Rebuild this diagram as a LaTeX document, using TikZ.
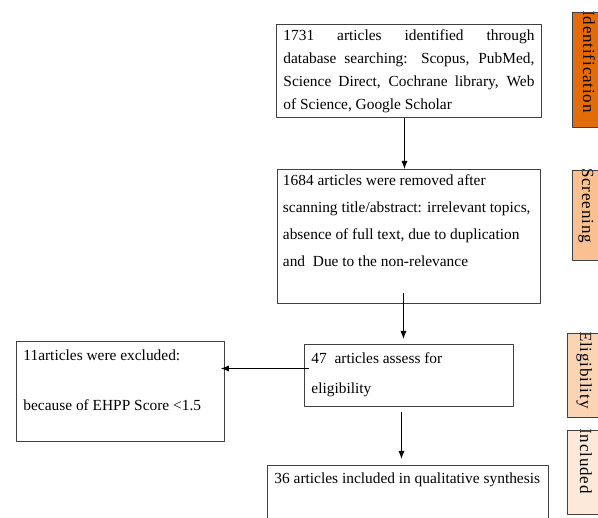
\documentclass[tikz,border=0pt]{standalone}
\usepackage{fontspec}
\setmainfont{Liberation Serif}
\newfontfamily\tabfont[LetterSpace=5]{Liberation Serif}
\usetikzlibrary{arrows.meta}
\definecolor{idorange}{HTML}{E36C09}
\definecolor{scrorange}{HTML}{FAC08F}
\definecolor{eligorange}{HTML}{FBD4B4}
\definecolor{inclorange}{HTML}{FDE9D9}
\hbadness=10000
\begin{document}
\begin{tikzpicture}[x=1pt,y=-1pt,>={Latex[length=8pt,width=6pt]}, line join=round,
	box/.style={draw=black!75, line width=0.9pt, anchor=north west, inner xsep=7pt, inner ysep=5pt},
	tab/.style={draw=black!75, line width=0.8pt},
	tabtxt/.style={rotate=-90, anchor=base west, inner sep=0pt, font=\tabfont\fontsize{17}{20}\selectfont}]
	\useasboundingbox (0,0) rectangle (598,518);
	% main boxes
	\node[box, font=\fontsize{15.4}{23}\selectfont] (ident) at (276,24)
		{\parbox[t][83pt][t]{251pt}{1731 articles identified through\linebreak database searching: Scopus, PubMed,\linebreak Science Direct, Cochrane library, Web\linebreak of Science, Google Scholar}};
	\node[box, inner xsep=5.5pt, font=\fontsize{15.4}{27}\selectfont] (screen) at (277,169)
		{\parbox[t][124pt][t]{252pt}{\raggedright 1684 articles were removed after\\ \mbox{scanning title/abstract: irrelevant\ topics,}\\ absence of full text, due to duplication\\ and\ \ Due to the non-relevance}};
	\node[box, inner ysep=8pt, font=\fontsize{15.4}{30}\selectfont] (elig) at (304,344)
		{\parbox[t][46pt][t]{195pt}{\raggedright 47\ \ articles assess for\\ eligibility}};
	\node[box, inner ysep=8pt, font=\fontsize{15.4}{25}\selectfont] (excl) at (16,341)
		{\parbox[t][84pt][t]{194pt}{\raggedright 11articles were excluded:\\ \mbox{}\\ because of EHPP Score <1.5}};
	\node[box, inner ysep=7pt, font=\fontsize{15.4}{23}\selectfont] (incl) at (267,465)
		{\parbox[t][80pt][t]{267pt}{\raggedright 36 articles included in qualitative synthesis}};
	% connectors
	\draw[->, line width=0.8pt] ([xshift=-4.5pt]ident.south) -- ([xshift=-4.5pt]screen.north);
	\draw[->, line width=0.8pt] ([xshift=-5.5pt,yshift=11pt]screen.south) -- ([xshift=-5.5pt,yshift=5pt]elig.north);
	\draw[->, line width=0.8pt] ([xshift=-7.5pt,yshift=-5pt]elig.south) -- ([xshift=-6.5pt,yshift=6pt]incl.north);
	\draw[->, line width=0.8pt] ([xshift=5pt,yshift=7pt]elig.west) -- ([xshift=-4pt,yshift=23pt]excl.east);
	% stage tabs
	\foreach \ya/\yb/\xa/\xt/\col/\word in {12/127/572/583/idorange/Identification,
		170/260/572/582/scrorange/Screening, 333/417/567/580/eligorange/Eligibility,
		430/514/567/580/inclorange/Included}
	{\begin{scope}
		\clip (\xa,\ya) rectangle (606,\yb);
		\fill[\col] (\xa,\ya) rectangle (606,\yb);
		\node[tabtxt] (tab-\word) at (\xt,\ya-2) {\word};
	\end{scope}
	\draw[tab] (\xa,\ya) rectangle (606,\yb);}
\end{tikzpicture}
\end{document}
